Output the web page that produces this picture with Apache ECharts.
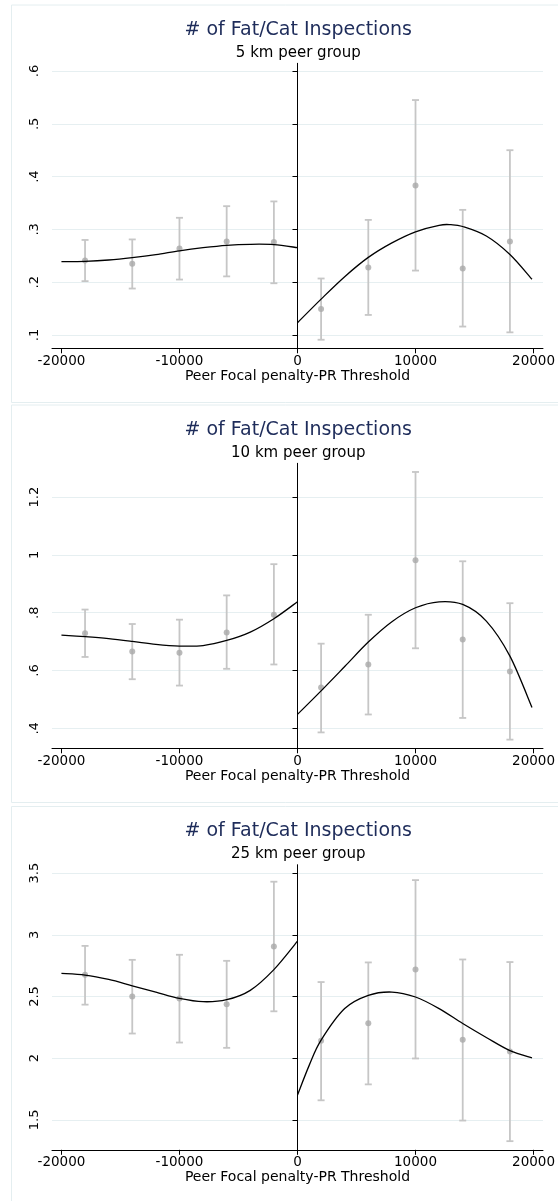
<!DOCTYPE html>
<html>
<head>
<meta charset="utf-8">
<script src="https://cdn.jsdelivr.net/npm/echarts@6/dist/echarts.min.js"></script>
<style>
  html, body { margin: 0; padding: 0; background: #ffffff; }
  #chart { width: 558px; height: 1201px; }
</style>
</head>
<body>
<div id="chart"></div>
<script>
// Bin centres of the running variable (peer focal penalty minus PR threshold)
const binX = [-18000, -14000, -10000, -6000, -2000, 2000, 6000, 10000, 14000, 18000];

// 5 km peer group: bin means and 95% CI bounds
const mean5 = [0.241, 0.235, 0.264, 0.277, 0.276, 0.149, 0.228, 0.383, 0.226, 0.277];
const low5  = [0.202, 0.188, 0.205, 0.211, 0.198, 0.091, 0.138, 0.222, 0.116, 0.105];
const high5 = [0.280, 0.281, 0.322, 0.344, 0.353, 0.207, 0.318, 0.545, 0.337, 0.450];

// 10 km peer group
const mean10 = [0.729, 0.666, 0.662, 0.732, 0.793, 0.541, 0.621, 0.982, 0.707, 0.597];
const low10  = [0.647, 0.570, 0.548, 0.606, 0.621, 0.386, 0.448, 0.677, 0.436, 0.361];
const high10 = [0.811, 0.761, 0.776, 0.860, 0.968, 0.693, 0.793, 1.287, 0.978, 0.833];

// 25 km peer group
const mean25 = [2.676, 2.501, 2.483, 2.437, 2.905, 2.141, 2.283, 2.719, 2.149, 2.055];
const low25  = [2.434, 2.200, 2.127, 2.084, 2.380, 1.659, 1.788, 1.998, 1.495, 1.328];
const high25 = [2.910, 2.797, 2.838, 2.789, 3.430, 2.617, 2.776, 3.443, 2.800, 2.779];

// Fitted polynomial on each side of the threshold: [x, fitted value]
const fit5Left = [[-20000, 0.239], [-18000, 0.2396], [-16000, 0.242], [-14000, 0.2464], [-12000, 0.2521],
  [-10000, 0.2595], [-8000, 0.2654], [-6000, 0.2699], [-4000, 0.2718], [-2000, 0.2712], [0, 0.2654]];
const fit5Right = [[0, 0.1233], [2000, 0.168], [4000, 0.2105], [6000, 0.247], [8000, 0.2745], [10000, 0.2955],
  [12000, 0.3078], [13000, 0.3089], [14000, 0.3055], [16000, 0.2875], [18000, 0.2525], [19870, 0.2055]];

const fit10Left = [[-20000, 0.7228], [-18000, 0.7172], [-16000, 0.7103], [-14000, 0.7010], [-12000, 0.6907],
  [-10000, 0.6848], [-8000, 0.6865], [-6000, 0.7040], [-4000, 0.7330], [-2000, 0.7793], [0, 0.838]];
const fit10Right = [[0, 0.4483], [2000, 0.5297], [4000, 0.6138], [6000, 0.6986], [8000, 0.7690], [10000, 0.8172],
  [12000, 0.8379], [14000, 0.8286], [16000, 0.7710], [18000, 0.650], [19870, 0.4724]];

const fit25Left = [[-20000, 2.687], [-18000, 2.673], [-16000, 2.638], [-14000, 2.587], [-12000, 2.536],
  [-10000, 2.485], [-8000, 2.458], [-6000, 2.474], [-4000, 2.550], [-2000, 2.718], [0, 2.948]];
const fit25Right = [[0, 1.701], [1000, 1.944], [2000, 2.146], [4000, 2.402], [6000, 2.509], [8000, 2.536],
  [10000, 2.496], [12000, 2.402], [14000, 2.281], [16000, 2.168], [18000, 2.062], [19870, 2.003]];

// Axis ranges and tick labels
const xTicks = [-20000, -10000, 0, 10000, 20000];
const xRange = [-20800, 20800];
const panels = [
  { sub: '5 km peer group',  mean: mean5,  low: low5,  high: high5,  fitL: fit5Left,  fitR: fit5Right,
    yRange: [0.0748, 0.6146], yTicks: [0.1, 0.2, 0.3, 0.4, 0.5, 0.6], yLabels: ['.1', '.2', '.3', '.4', '.5', '.6'] },
  { sub: '10 km peer group', mean: mean10, low: low10, high: high10, fitL: fit10Left, fitR: fit10Right,
    yRange: [0.331, 1.317], yTicks: [0.4, 0.6, 0.8, 1.0, 1.2], yLabels: ['.4', '.6', '.8', '1', '1.2'] },
  { sub: '25 km peer group', mean: mean25, low: low25, high: high25, fitL: fit25Left, fitR: fit25Right,
    yRange: [1.258, 3.567], yTicks: [1.5, 2, 2.5, 3, 3.5], yLabels: ['1.5', '2', '2.5', '3', '3.5'] }
];

const panelTop = [5, 405, 806.5];
const PLOT_LEFT = 52, PLOT_RIGHT = 13.5;
const PLOT_CX = PLOT_LEFT + (558 - PLOT_LEFT - PLOT_RIGHT) / 2;
const FONT = 'DejaVu Sans';
const GRID_COLOR = '#e6eff1';
const BAR_COLOR = '#c6c6c6';
const DOT_COLOR = '#a9a9a9';

function errorBar(params, api) {
  const x = api.value(0);
  const top = api.coord([x, api.value(2)]);
  const bot = api.coord([x, api.value(1)]);
  const w = 3.5;
  const st = { stroke: BAR_COLOR, lineWidth: 1.8 };
  return {
    type: 'group',
    children: [
      { type: 'line', shape: { x1: top[0], y1: top[1], x2: bot[0], y2: bot[1] }, style: st },
      { type: 'line', shape: { x1: top[0] - w, y1: top[1], x2: top[0] + w, y2: top[1] }, style: st },
      { type: 'line', shape: { x1: bot[0] - w, y1: bot[1], x2: bot[0] + w, y2: bot[1] }, style: st }
    ]
  };
}

// Smooth fitted curve: a Catmull-Rom spline through the fitted points, drawn as cubic Béziers
function fitCurve(points) {
  return function (params, api) {
    if (params.dataIndex !== 0) return null;
    const P = points.map(d => api.coord(d));
    const n = P.length;
    let d = 'M' + P[0][0] + ' ' + P[0][1];
    for (let i = 0; i < n - 1; i++) {
      const p0 = P[Math.max(i - 1, 0)], p1 = P[i], p2 = P[i + 1], p3 = P[Math.min(i + 2, n - 1)];
      const c1x = p1[0] + (p2[0] - p0[0]) / 6, c1y = p1[1] + (p2[1] - p0[1]) / 6;
      const c2x = p2[0] - (p3[0] - p1[0]) / 6, c2y = p2[1] - (p3[1] - p1[1]) / 6;
      d += ' C' + c1x + ' ' + c1y + ' ' + c2x + ' ' + c2y + ' ' + p2[0] + ' ' + p2[1];
    }
    return {
      type: 'path',
      shape: { pathData: d },
      style: { fill: null, stroke: '#000', lineWidth: 1.3 }
    };
  };
}

const option = {
  backgroundColor: '#ffffff',
  animation: false,
  grid: [], xAxis: [], yAxis: [], series: [],
  graphic: []
};

panels.forEach((p, i) => {
  const t = panelTop[i];
  option.graphic.push({
    type: 'rect', z: -10, silent: true,
    shape: { x: 11.5, y: t, width: 560, height: 397.5 },
    style: { fill: '#ffffff', stroke: '#e4eef0', lineWidth: 1 }
  });
  option.graphic.push({
    type: 'text', silent: true, x: PLOT_CX, y: t + 25,
    style: { text: '# of Fat/Cat Inspections', fontFamily: FONT, fontSize: 19, fill: '#1e2c5a',
             textAlign: 'center', textVerticalAlign: 'middle' }
  });
  option.graphic.push({
    type: 'text', silent: true, x: PLOT_CX, y: t + 48,
    style: { text: p.sub, fontFamily: FONT, fontSize: 15, fill: '#000000',
             textAlign: 'center', textVerticalAlign: 'middle' }
  });
  option.grid.push({ left: PLOT_LEFT, right: PLOT_RIGHT, top: t + 58.3, height: 285 });
  option.xAxis.push({
    type: 'value', gridIndex: i, min: xRange[0], max: xRange[1],
    name: 'Peer Focal penalty-PR Threshold', nameLocation: 'middle', nameGap: 21,
    nameTextStyle: { fontFamily: FONT, fontSize: 14, color: '#000' },
    axisLine: { show: true, lineStyle: { color: '#000', width: 1 } },
    axisTick: { show: true, length: 5, lineStyle: { color: '#000' }, customValues: xTicks },
    axisLabel: { fontFamily: FONT, fontSize: 13.5, color: '#000', margin: 6, customValues: xTicks,
                 formatter: v => String(v) },
    splitLine: { show: false }
  });
  option.yAxis.push({
    type: 'value', gridIndex: i, min: p.yRange[0], max: p.yRange[1],
    axisLine: { show: true, lineStyle: { color: '#000', width: 1 } },
    axisTick: { show: true, length: 5, lineStyle: { color: '#000' }, customValues: p.yTicks },
    axisLabel: { fontFamily: FONT, fontSize: 13, color: '#000', rotate: 90, margin: 11,
                 customValues: p.yTicks,
                 formatter: v => { const k = p.yTicks.findIndex(y => Math.abs(y - v) < 1e-9); return k >= 0 ? p.yLabels[k] : ''; } },
    splitLine: { show: true, lineStyle: { color: GRID_COLOR, width: 1 } }
  });
  // confidence intervals
  option.series.push({
    type: 'custom', xAxisIndex: i, yAxisIndex: i, renderItem: errorBar, z: 2,
    data: binX.map((x, k) => [x, p.low[k], p.high[k]])
  });
  // bin means
  option.series.push({
    type: 'scatter', xAxisIndex: i, yAxisIndex: i, symbolSize: 6, z: 3,
    itemStyle: { color: DOT_COLOR },
    data: binX.map((x, k) => [x, p.mean[k]])
  });
  // threshold line at zero
  option.series.push({
    type: 'line', xAxisIndex: i, yAxisIndex: i, data: [], z: 4,
    markLine: {
      silent: true, symbol: 'none', label: { show: false },
      lineStyle: { color: '#000', width: 1, type: 'solid' },
      data: [{ xAxis: 0 }]
    }
  });
  // fitted curves, left and right of the threshold
  [p.fitL, p.fitR].forEach(fit => {
    option.series.push({
      type: 'custom', xAxisIndex: i, yAxisIndex: i, z: 5, clip: true,
      renderItem: fitCurve(fit),
      data: fit
    });
  });
});

const chart = echarts.init(document.getElementById('chart'), null, { renderer: 'canvas' });
chart.setOption(option);
</script>
</body>
</html>
